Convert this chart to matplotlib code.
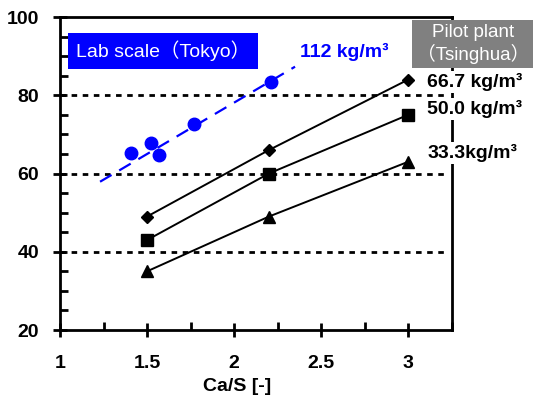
import matplotlib
matplotlib.use('Agg')
import matplotlib.pyplot as plt
from matplotlib.ticker import MultipleLocator

plt.rcParams['font.family'] = ['Liberation Sans', 'Noto Sans CJK JP', 'DejaVu Sans']

# Lab scale (Tokyo), 112 kg/m3
lab_x = [1.41, 1.52, 1.57, 1.77, 2.21]
lab_y = [65.2, 67.9, 64.7, 72.6, 83.3]
lab_fit_x = [1.23, 2.35]
lab_fit_y = [57.9, 87.3]

# Pilot plant (Tsinghua)
ca_s = [1.5, 2.2, 3.0]
eff_667 = [49, 66, 84]
eff_500 = [43, 60, 75]
eff_333 = [35, 49, 63]

fig = plt.figure(figsize=(5.33, 4.03), dpi=100)
ax = fig.add_axes([0.1126, 0.1811, 0.8475 - 0.1126, 0.9578 - 0.1811])

for y in [40, 60, 80]:
    ax.plot([1, 3.22], [y, y], color='black', lw=2, ls=(0, (2, 2)), zorder=1)

ax.plot(lab_fit_x, lab_fit_y, color='#0000ff', lw=1.6, ls=(0, (6, 4)), zorder=2)
ax.plot(lab_x, lab_y, 'o', color='#0000ff', ms=9, zorder=3)

ax.plot(ca_s, eff_667, '-D', color='black', lw=1.4, ms=6, zorder=3)
ax.plot(ca_s, eff_500, '-s', color='black', lw=1.4, ms=8, zorder=3)
ax.plot(ca_s, eff_333, '-^', color='black', lw=1.4, ms=8, zorder=3)

ax.set_xlim(1, 3.25)
ax.set_ylim(20, 100)
ax.xaxis.set_major_locator(MultipleLocator(0.5))
ax.xaxis.set_minor_locator(MultipleLocator(0.25))
ax.yaxis.set_major_locator(MultipleLocator(20))
ax.yaxis.set_minor_locator(MultipleLocator(5))
ax.set_xticks([1, 1.5, 2, 2.5, 3])
ax.set_xticklabels(['1', '1.5', '2', '2.5', '3'])
ax.tick_params(which='major', direction='inout', length=10, width=2,
               labelsize=14)
ax.tick_params(axis='x', which='major', pad=13)
ax.tick_params(axis='y', which='major', pad=10)
ax.tick_params(which='minor', direction='in', length=6, width=2)
for lab in ax.get_xticklabels() + ax.get_yticklabels():
    lab.set_fontweight('bold')
for s in ax.spines.values():
    s.set_linewidth(2)

ax.set_xlabel('Ca/S [-]', fontsize=14, fontweight='bold')
ax.xaxis.set_label_coords(0.452, -0.18)
ax.xaxis.label.set_va('center')

ax.text(1.09, 91.4, 'Lab scale（Tokyo）', fontsize=14, color='white',
        va='center', ha='left',
        bbox=dict(boxstyle='square,pad=0.4', fc='#0000ff', ec='none'))
ax.text(2.38, 91.0, '112 kg/m³', fontsize=14, color='#0000ff',
        fontweight='bold', va='center', ha='left')

fig.text(0.888, 0.891, 'Pilot plant\n（Tsinghua）', fontsize=13.5, color='white',
         va='center', ha='center', linespacing=1.15,
         bbox=dict(boxstyle='square,pad=0.25', fc='#808080', ec='none'))

for txt, y in [('66.7 kg/m³', 83.3), ('50.0 kg/m³', 76.4),
               ('33.3kg/m³', 65.2)]:
    ax.text(3.11, y, txt, fontsize=14, fontweight='bold', color='black',
            va='center', ha='left', zorder=5, clip_on=False,
            bbox=dict(boxstyle='square,pad=0.1', fc='white', ec='none'))

fig.savefig('out.png', dpi=100)
